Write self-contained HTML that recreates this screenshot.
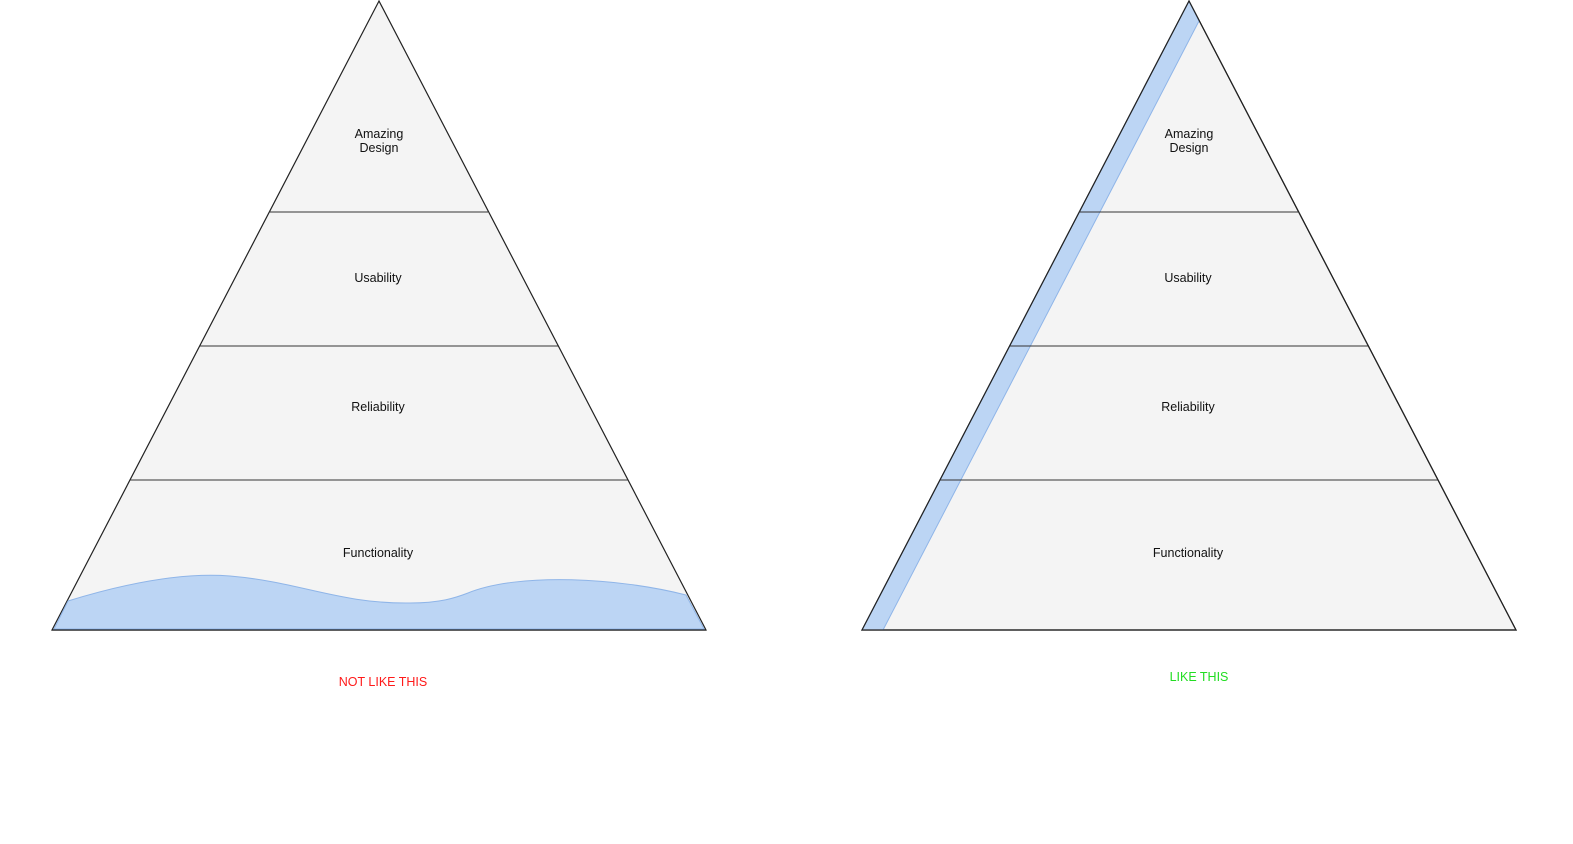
<!DOCTYPE html>
<html><head><meta charset="utf-8"><style>
html,body{margin:0;padding:0;background:#fff;overflow:hidden;width:1573px;height:844px;}
svg{display:block;}
text{font-family:"Liberation Sans",sans-serif;font-size:12.5px;fill:#111;}
</style></head><body>
<svg width="1573" height="844" viewBox="0 0 1573 844" xmlns="http://www.w3.org/2000/svg">
<!-- Left pyramid -->
<polygon points="379,1 52,630 706,630" fill="#f4f4f4" stroke="#222" stroke-width="1.2"/>
<path d="M54,629 L68,601 C120,585 180,572 230,576 C300,582 340,604 410,603 C440,603 455,598 468,593 C520,572 620,578 686,595 L704,629 Z" fill="#bcd5f4" stroke="#8fb5e8" stroke-width="1"/>
<line x1="52" y1="630" x2="706" y2="630" stroke="#222" stroke-width="1.2"/>
<line x1="269" y1="212" x2="488" y2="212" stroke="#333" stroke-width="1"/>
<line x1="200" y1="346" x2="558" y2="346" stroke="#333" stroke-width="1"/>
<line x1="130" y1="480" x2="628" y2="480" stroke="#333" stroke-width="1"/>
<text x="379" y="138" text-anchor="middle">Amazing</text>
<text x="379" y="152" text-anchor="middle">Design</text>
<text x="378" y="282" text-anchor="middle">Usability</text>
<text x="378" y="411" text-anchor="middle">Reliability</text>
<text x="378" y="557" text-anchor="middle">Functionality</text>
<text x="383" y="686" text-anchor="middle" style="fill:#ff1a1a">NOT LIKE THIS</text>

<!-- Right pyramid -->
<polygon points="1189,1 862,630 1516,630" fill="#f4f4f4" stroke="#222" stroke-width="1.2"/>
<polygon points="1189,1 1199,21 883,630 862,630" fill="#bcd5f4" stroke="#8fb5e8" stroke-width="1"/>
<polygon points="1189,1 862,630 1516,630" fill="none" stroke="#222" stroke-width="1.2"/>
<line x1="1079" y1="212" x2="1298" y2="212" stroke="#333" stroke-width="1"/>
<line x1="1010" y1="346" x2="1368" y2="346" stroke="#333" stroke-width="1"/>
<line x1="940" y1="480" x2="1438" y2="480" stroke="#333" stroke-width="1"/>
<text x="1189" y="138" text-anchor="middle">Amazing</text>
<text x="1189" y="152" text-anchor="middle">Design</text>
<text x="1188" y="282" text-anchor="middle">Usability</text>
<text x="1188" y="411" text-anchor="middle">Reliability</text>
<text x="1188" y="557" text-anchor="middle">Functionality</text>
<text x="1199" y="681" text-anchor="middle" style="fill:#22dd22">LIKE THIS</text>
</svg>
</body></html>
